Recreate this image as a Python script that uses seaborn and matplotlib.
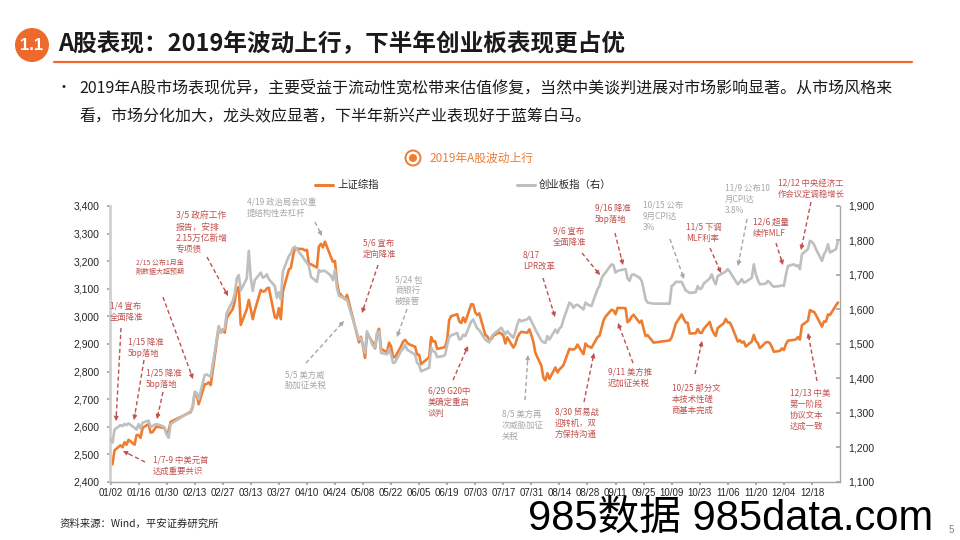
import numpy as np
import pandas as pd
import matplotlib
matplotlib.use("Agg")
import matplotlib.pyplot as plt
from matplotlib.lines import Line2D
from matplotlib.patches import Ellipse, FancyArrowPatch
from matplotlib.ticker import FuncFormatter
import seaborn as sns

# ---------------- data (2019 trading days) ----------------
dates = [
    "01-02","01-03","01-04","01-07","01-08","01-09","01-10","01-11","01-14","01-15","01-16","01-17","01-18","01-21","01-22","01-23","01-24","01-25","01-28","01-29","01-30","01-31",
    "02-01","02-11","02-12","02-13","02-14","02-15","02-18","02-19","02-20","02-21","02-22","02-25","02-26","02-27","02-28",
    "03-01","03-04","03-05","03-06","03-07","03-08","03-11","03-12","03-13","03-14","03-15","03-18","03-19","03-20","03-21","03-22","03-25","03-26","03-27","03-28","03-29",
    "04-01","04-02","04-03","04-04","04-08","04-09","04-10","04-11","04-12","04-15","04-16","04-17","04-18","04-19","04-22","04-23","04-24","04-25","04-26","04-29","04-30",
    "05-06","05-07","05-08","05-09","05-10","05-13","05-14","05-15","05-16","05-17","05-20","05-21","05-22","05-23","05-24","05-27","05-28","05-29","05-30","05-31",
    "06-03","06-04","06-05","06-06","06-10","06-11","06-12","06-13","06-14","06-17","06-18","06-19","06-20","06-21","06-24","06-25","06-26","06-27","06-28",
    "07-01","07-02","07-03","07-04","07-05","07-08","07-09","07-10","07-11","07-12","07-15","07-16","07-17","07-18","07-19","07-22","07-23","07-24","07-25","07-26","07-29","07-30","07-31",
    "08-01","08-02","08-05","08-06","08-07","08-08","08-09","08-12","08-13","08-14","08-15","08-16","08-19","08-20","08-21","08-22","08-23","08-26","08-27","08-28","08-29","08-30",
    "09-02","09-03","09-04","09-05","09-06","09-09","09-10","09-11","09-12","09-16","09-17","09-18","09-19","09-20","09-23","09-24","09-25","09-26","09-27","09-30",
    "10-08","10-09","10-10","10-11","10-14","10-15","10-16","10-17","10-18","10-21","10-22","10-23","10-24","10-25","10-28","10-29","10-30","10-31",
    "11-01","11-04","11-05","11-06","11-07","11-08","11-11","11-12","11-13","11-14","11-15","11-18","11-19","11-20","11-21","11-22","11-25","11-26","11-27","11-28","11-29",
    "12-02","12-03","12-04","12-05","12-06","12-09","12-10","12-11","12-12","12-13","12-16","12-17","12-18","12-19","12-20","12-23","12-24","12-25","12-26","12-27","12-30","12-31",
]

sse = [  # 上证综指 (left axis)
    2465,2464,2515,2533,2526,2544,2535,2553,2535,2570,2570,2560,2596,2610,2579,2581,2592,2601,2597,2594,2575,2585,
    2618,2653,2671,2721,2719,2682,2754,2755,2761,2751,2804,2961,2941,2953,2941,
    2994,3027,3054,3102,3106,2969,3026,3060,3026,2990,3022,3096,3090,3091,3101,3104,2997,2993,3030,2990,3090,
    3170,3176,3216,3246,3244,3239,3241,3189,3189,3177,3253,3263,3250,3271,3215,3198,3201,3124,3086,3062,3078,
    2906,2926,2893,2850,2939,2903,2884,2938,2955,2882,2870,2905,2891,2852,2853,2892,2909,2915,2905,2899,
    2890,2862,2861,2827,2852,2925,2909,2910,2882,2887,2890,2917,2987,3001,3008,2982,2976,2996,2979,
    3044,3043,3015,3005,3011,2933,2928,2915,2917,2930,2942,2937,2931,2902,2924,2887,2899,2923,2937,2944,2941,2953,2932,
    2908,2868,2821,2777,2768,2794,2774,2815,2797,2808,2815,2823,2883,2880,2880,2884,2898,2863,2902,2893,2890,2886,
    2925,2930,2957,2985,2999,3024,3021,3008,3031,3030,2979,2985,2999,3006,2977,2985,2955,2929,2932,2905,
    2913,2924,2947,2973,3007,2991,2978,2977,2938,2939,2954,2941,2940,2955,2980,2955,2939,2929,
    2958,2975,2991,2978,2978,2964,2909,2914,2905,2909,2891,2909,2933,2911,2903,2885,2906,2907,2903,2889,2872,
    2875,2884,2878,2899,2912,2915,2917,2925,2916,2968,2984,3023,3018,3017,3005,2963,2982,2981,3007,3005,3040,3050,
]

cyb = [  # 创业板指 (right axis)
    1225,1214,1252,1265,1262,1268,1265,1270,1257,1252,1268,1255,1272,1278,1260,1262,1266,1268,1262,1258,1238,1228,
    1268,1305,1318,1362,1358,1340,1410,1412,1408,1405,1440,1552,1533,1540,1545,
    1590,1625,1645,1690,1700,1655,1690,1770,1690,1654,1685,1707,1692,1695,1702,1688,1668,1634,1650,1629,1710,
    1755,1762,1778,1782,1752,1742,1736,1726,1695,1680,1715,1710,1712,1712,1698,1685,1715,1662,1640,1632,1628,
    1513,1518,1494,1474,1537,1494,1490,1532,1537,1474,1470,1484,1469,1445,1447,1480,1486,1498,1484,1480,
    1469,1445,1440,1421,1431,1489,1479,1477,1462,1465,1469,1498,1520,1525,1532,1513,1515,1527,1523,
    1565,1571,1557,1545,1540,1513,1508,1505,1520,1528,1542,1547,1537,1528,1537,1518,1535,1557,1571,1566,1572,1578,1566,
    1555,1542,1510,1505,1503,1523,1513,1542,1532,1545,1550,1571,1620,1615,1605,1612,1614,1600,1620,1615,1612,1610,
    1659,1668,1690,1700,1707,1731,1728,1707,1712,1717,1690,1683,1700,1702,1692,1683,1659,1629,1620,1617,
    1617,1668,1672,1680,1680,1668,1655,1652,1648,1650,1668,1659,1662,1675,1690,1702,1685,1673,
    1697,1707,1710,1717,1710,1700,1673,1680,1688,1678,1680,1692,1731,1702,1685,1673,1675,1683,1678,1670,1666,
    1668,1670,1668,1700,1726,1731,1726,1728,1717,1760,1775,1799,1796,1789,1775,1741,1760,1770,1789,1765,1775,1799,
]

x_tick_labels = ["01/02","01/16","01/30","02/13","02/27","03/13","03/27","04/10","04/24",
                 "05/08","05/22","06/05","06/19","07/03","07/17","07/31","08/14","08/28",
                 "09/11","09/25","10/09","10/23","11/06","11/20","12/04","12/18"]
left_ticks = [2400, 2500, 2600, 2700, 2800, 2900, 3000, 3100, 3200, 3300, 3400]
right_ticks = [1100, 1200, 1300, 1400, 1500, 1600, 1700, 1800, 1900]

series_names = ["上证综指", "创业板指（右）"]

df = pd.DataFrame({
    "date": pd.to_datetime(["2019-" + d for d in dates]),
    "sse": sse,
    "cyb": cyb,
})

# ---------------- style ----------------
sns.set_theme(style="white")
plt.rcParams["font.family"] = ["Noto Sans CJK SC", "DejaVu Sans"]

ORANGE = "#ED7D31"
GRAY_LINE = "#BFBFBF"
RED_TXT = "#C0504D"
GRAY_TXT = "#A6A6A6"
NUMFONT = ["Liberation Sans", "DejaVu Sans"]

W, H = 960, 540
fig = plt.figure(figsize=(9.6, 5.4), dpi=100)


def fp(x, y):
    return (x / W, 1 - y / H)


ax = fig.add_axes([110 / W, 1 - 482 / H, 730 / W, 276 / H])
sns.lineplot(data=df, x="date", y="sse", ax=ax, color=ORANGE, linewidth=1.9)
ax2 = ax.twinx()
sns.lineplot(data=df, x="date", y="cyb", ax=ax2, color=GRAY_LINE, linewidth=1.9)

ax.set_xlim(pd.Timestamp("2019-01-02") - pd.Timedelta(hours=6), pd.Timestamp("2020-01-01"))
ax.set_ylim(left_ticks[0], left_ticks[-1])
ax2.set_ylim(right_ticks[0], right_ticks[-1])

xt = pd.to_datetime(["2019/" + t for t in x_tick_labels])
ax.set_xticks(xt)
ax.set_xticklabels(x_tick_labels)
ax.set_yticks(left_ticks)
ax2.set_yticks(right_ticks)
ax.yaxis.set_major_formatter(FuncFormatter(lambda v, p: f"{v:,.0f}"))
ax2.yaxis.set_major_formatter(FuncFormatter(lambda v, p: f"{v:,.0f}"))
for a in (ax, ax2):
    a.set_xlabel("")
    a.set_ylabel("")
    a.grid(False)

for s in ("top", "right"):
    ax.spines[s].set_visible(False)
ax.spines["left"].set_color("#D0D0D0")
ax.spines["left"].set_linewidth(2.0)
ax.spines["bottom"].set_color("#A6A6A6")
ax.spines["bottom"].set_linewidth(1.0)
for s in ("top", "left", "bottom"):
    ax2.spines[s].set_visible(False)
ax2.spines["right"].set_color("#A6A6A6")
ax2.spines["right"].set_linewidth(1.0)

ax.tick_params(axis="y", length=2.5, color="#A6A6A6", labelsize=7.5, pad=5,
               labelcolor="#262626", left=True)
ax.tick_params(axis="x", length=2.5, color="#A6A6A6", labelsize=7, pad=2,
               labelcolor="#262626", bottom=True)
ax2.tick_params(axis="y", length=3, direction="in", color="#A6A6A6", labelsize=7.5,
                pad=6, labelcolor="#262626", right=True)
for lab in ax.get_xticklabels() + ax.get_yticklabels() + ax2.get_yticklabels():
    lab.set_family(NUMFONT)

# ---------------- header ----------------
fig.add_artist(Ellipse(fp(32, 45), 34 / W, 34 / H, transform=fig.transFigure,
                       facecolor="#EE6A2C", edgecolor="none"))
fig.text(*fp(32, 45), "1.1", color="white", fontsize=12, fontweight="bold",
         ha="center", va="center", family=NUMFONT)
fig.text(*fp(58, 44), "A股表现：2019年波动上行，下半年创业板表现更占优", fontsize=17,
         fontweight="bold", color="#1A1A1A", ha="left", va="center")
fig.add_artist(Line2D([54 / W, 912 / W], [1 - 61.5 / H] * 2, transform=fig.transFigure,
                      color="#EE6A2C", lw=1.6))

fig.text(*fp(63, 88), "•", fontsize=10, color="#1A1A1A", ha="center", va="center")
fig.text(*fp(79, 88), "2019年A股市场表现优异，主要受益于流动性宽松带来估值修复，当然中美谈判进展对市场影响显著。从市场风格来",
         fontsize=11.5, color="#1A1A1A", ha="left", va="center")
fig.text(*fp(79, 117), "看，市场分化加大，龙头效应显著，下半年新兴产业表现好于蓝筹白马。",
         fontsize=11.5, color="#1A1A1A", ha="left", va="center")

# chart title with ring icon
fig.add_artist(Ellipse(fp(413, 158), 15 / W, 15 / H, transform=fig.transFigure,
                       facecolor="none", edgecolor=ORANGE, lw=1.4))
fig.add_artist(Ellipse(fp(413, 158), 8 / W, 8 / H, transform=fig.transFigure,
                       facecolor=ORANGE, edgecolor="none"))
fig.text(*fp(429, 158), "2019年A股波动上行", fontsize=8.5, color=ORANGE, ha="left", va="center")

# legend
fig.add_artist(Line2D([315 / W, 333 / W], [1 - 185 / H] * 2, transform=fig.transFigure,
                      color=ORANGE, lw=2.2))
fig.text(*fp(337, 185), series_names[0], fontsize=7.5, color="#262626", ha="left", va="center")
fig.add_artist(Line2D([517 / W, 535 / W], [1 - 185 / H] * 2, transform=fig.transFigure,
                      color=GRAY_LINE, lw=2.2))
fig.text(*fp(539, 185), series_names[1], fontsize=7.5, color="#262626", ha="left", va="center")

# ---------------- annotations ----------------
notes = [
    ("1/4 宣布\n全面降准", 110, 311.5, RED_TXT, 6, (121, 328), (116, 421)),
    ("1/15 降准\n5bp落地", 128, 348, RED_TXT, 6, (144, 360), (134, 420)),
    ("1/25 降准\n5bp落地", 146, 378.5, RED_TXT, 6, (163, 392), (157, 419)),
    ("1/7-9 中美元首\n达成重要共识", 153, 465.5, RED_TXT, 6, (145, 462), (123, 451)),
    ("2/15 公布1月金\n融数据大超预期", 136, 267.5, RED_TXT, 5, (163, 297), (193, 379)),
    ("3/5 政府工作\n报告，安排\n2.15万亿新增\n专项债", 176, 232.5, RED_TXT, 6.3, (207, 257), (228, 296)),
    ("5/6 宣布\n定向降准", 363, 249, RED_TXT, 6, (378, 265), (362, 313)),
    ("6/29 G20中\n美确定重启\n谈判", 428, 402.5, RED_TXT, 6, (453, 380), (468, 346)),
    ("8/17\nLPR改革", 523, 260.5, RED_TXT, 6, (543, 278), (555, 317)),
    ("9/6 宣布\n全面降准", 553, 236.5, RED_TXT, 6, (582, 253), (600, 275)),
    ("9/16 降准\n5bp落地", 595, 214, RED_TXT, 6, (615, 233), (623, 265)),
    ("9/11 美方推\n迟加征关税", 608, 377.5, RED_TXT, 6, (633, 363), (618, 323)),
    ("8/30 贸易战\n迎转机，双\n方保持沟通", 555, 423, RED_TXT, 6, (584, 402), (594, 353)),
    ("10/25 部分文\n本技术性磋\n商基本完成", 672, 399.5, RED_TXT, 6, (695, 374), (702, 341)),
    ("11/5 下调\nMLF利率", 686, 232.5, RED_TXT, 6, (710, 248), (721, 273)),
    ("12/6 超量\n续作MLF", 753, 228, RED_TXT, 6, (776, 243), (783, 265)),
    ("12/12 中央经济工\n作会议定调稳增长", 778, 188.7, RED_TXT, 6, (811, 202), (801, 250)),
    ("12/13 中美\n第一阶段\n协议文本\n达成一致", 790, 410, RED_TXT, 6, (817, 381), (808, 333)),
    ("4/19 政治局会议重\n提结构性去杠杆", 247, 208, GRAY_TXT, 6, (315, 222), (322, 236)),
    ("5/5 美方威\n胁加征关税", 285, 380.3, GRAY_TXT, 6, (306, 363), (344, 321)),
    ("5/24 包\n商银行\n被接管", 395, 290.8, GRAY_TXT, 6, (407, 309), (397, 337)),
    ("8/5 美方再\n次威胁加征\n关税", 502, 425, GRAY_TXT, 6, (525, 400), (528, 355)),
    ("10/15 公布\n9月CPI达\n3%", 643, 216.3, GRAY_TXT, 6, (670, 239), (684, 279)),
    ("11/9 公布10\n月CPI达\n3.8%", 725, 199.4, GRAY_TXT, 6, (747, 219), (738, 266)),
]


def dashed_arrow(tail, tip, color):
    tx, ty = tail
    hx, hy = tip
    dx, dy = hx - tx, hy - ty
    L = float(np.hypot(dx, dy))
    ux, uy = dx / L, dy / L
    end = (hx - 3 * ux, hy - 3 * uy)
    fig.add_artist(Line2D([tx / W, end[0] / W], [1 - ty / H, 1 - end[1] / H],
                          transform=fig.transFigure, color=color, lw=1.0,
                          linestyle=(0, (3, 2))))
    start = (hx - 7 * ux, hy - 7 * uy)
    fig.add_artist(FancyArrowPatch(fp(*start), fp(hx, hy), transform=fig.transFigure,
                                   arrowstyle="-|>", mutation_scale=7, color=color,
                                   lw=0.6, shrinkA=0, shrinkB=0))


for text, x, y, col, fs, tail, tip in notes:
    fig.text(*fp(x, y), text, fontsize=fs, color=col, ha="left", va="center",
             linespacing=1.3)
    dashed_arrow(tail, tip, col)

# ---------------- footer ----------------
fig.text(*fp(60, 524), "资料来源：Wind，平安证券研究所", fontsize=7.5, color="#262626",
         ha="left", va="center")
fig.text(*fp(951, 530), "5", fontsize=7, color="#7F7F7F", ha="center", va="center",
         family=NUMFONT)
fig.text(528 / W, 1 - 530 / H, "985数据 985data.com", fontsize=30, color="black",
         ha="left", va="baseline", family=["Liberation Sans", "Noto Sans CJK SC"])

fig.savefig("out.png", dpi=100)
